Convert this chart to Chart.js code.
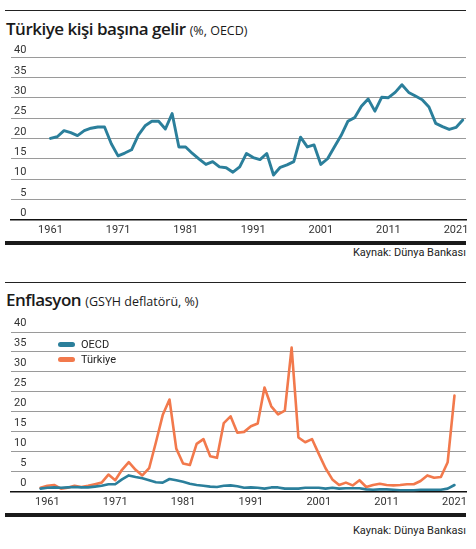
<!DOCTYPE html>
<html lang="tr">
<head>
<meta charset="utf-8">
<title>Türkiye kişi başına gelir ve enflasyon</title>
<script src="https://cdn.jsdelivr.net/npm/chart.js@4.4.1/dist/chart.umd.min.js"></script>
<style>
  html, body { margin: 0; padding: 0; background: #fff; }
  #page { position: relative; width: 476px; height: 549px; overflow: hidden; font-family: 'Open Sans', sans-serif; color: #1a1a1a; }
  .rule { position: absolute; left: 5px; width: 461px; height: 1px; background: #222; }
  .bar { position: absolute; left: 5px; width: 461px; height: 4px; background: #1a1a1a; }
  .title { position: absolute; left: 6px; white-space: nowrap; line-height: 20px; }
  .title b { font-weight: 600; font-size: 17px; letter-spacing: -0.5px; }
  .title span { font-size: 12.5px; }
  .source { position: absolute; right: 10px; font-family: 'Liberation Sans Narrow', 'Roboto', sans-serif; font-size: 11px; line-height: 12px; color: #222; }
  .chart { position: absolute; left: 0; width: 476px; }
  .legend { position: absolute; left: 58px; font-family: 'Liberation Sans Narrow', 'Roboto', sans-serif; font-size: 11px; color: #222; }
  .legend div { height: 15px; line-height: 15px; white-space: nowrap; }
  .legend i { display: inline-block; width: 17px; height: 5px; border-radius: 3px; margin-right: 6px; vertical-align: middle; position: relative; top: -1px; }
</style>
</head>
<body>
<div id="page">
  <div class="rule" style="top:10px"></div>
  <div class="title" style="top:19px"><b>Türkiye kişi başına gelir</b> <span>(%, OECD)</span></div>
  <div class="chart" style="top:40px;height:201px"><canvas id="incomeChart"></canvas></div>
  <div class="bar" style="top:241px"></div>
  <div class="source" style="top:247px">Kaynak: Dünya Bankası</div>

  <div class="rule" style="top:282px"></div>
  <div class="title" style="top:290px"><b>Enflasyon</b> <span>(GSYH deflatörü, %)</span></div>
  <div class="chart" style="top:315px;height:198px"><canvas id="inflationChart"></canvas></div>
  <div class="legend" style="top:337px">
    <div><i style="background:#2b7f9b"></i>OECD</div>
    <div><i style="background:#f2794c"></i>Türkiye</div>
  </div>
  <div class="bar" style="top:513px"></div>
  <div class="source" style="top:525px">Kaynak: Dünya Bankası</div>
</div>

<script>
// Kişi başına gelir, OECD ortalamasına oranı (%)
const incomeYears = [
  1961, 1962, 1963, 1964, 1965, 1966, 1967, 1968, 1969, 1970,
  1971, 1972, 1973, 1974, 1975, 1976, 1977, 1978, 1979, 1980,
  1981, 1982, 1983, 1984, 1985, 1986, 1987, 1988, 1989, 1990,
  1991, 1992, 1993, 1994, 1995, 1996, 1997, 1998, 1999, 2000,
  2001, 2002, 2003, 2004, 2005, 2006, 2007, 2008, 2009, 2010,
  2011, 2012, 2013, 2014, 2015, 2016, 2017, 2018, 2019, 2020,
  2021, 2022
];
const incomeValues = [
  20.0, 20.4, 21.9, 21.4, 20.7, 21.9, 22.5, 22.8, 22.8, 18.7,
  15.7, 16.4, 17.2, 20.8, 23.1, 24.2, 24.2, 22.3, 26.1, 17.9,
  17.9, 16.3, 14.9, 13.6, 14.3, 13.0, 12.8, 11.7, 13.0, 16.3,
  15.3, 14.8, 16.3, 11.0, 12.9, 13.5, 14.3, 20.3, 17.9, 18.4,
  13.6, 15.0, 17.9, 20.7, 24.2, 25.1, 27.9, 29.7, 26.7, 30.1,
  30.0, 31.3, 33.2, 31.3, 30.4, 29.5, 27.7, 23.7, 22.9, 22.2,
  22.7, 24.5
];

// Enflasyon (GSYH deflatörü)
const inflationYears = [
  1960, 1961, 1962, 1963, 1964, 1965, 1966, 1967, 1968, 1969,
  1970, 1971, 1972, 1973, 1974, 1975, 1976, 1977, 1978, 1979,
  1980, 1981, 1982, 1983, 1984, 1985, 1986, 1987, 1988, 1989,
  1990, 1991, 1992, 1993, 1994, 1995, 1996, 1997, 1998, 1999,
  2000, 2001, 2002, 2003, 2004, 2005, 2006, 2007, 2008, 2009,
  2010, 2011, 2012, 2013, 2014, 2015, 2016, 2017, 2018, 2019,
  2020, 2021
];
const oecdInflation = [
  0.8, 1.0, 1.1, 1.0, 1.1, 1.2, 1.1, 1.1, 1.3, 1.5,
  1.9, 1.9, 3.1, 4.1, 3.7, 3.4, 2.9, 2.4, 2.3, 3.2,
  2.9, 2.5, 2.0, 1.7, 1.5, 1.3, 1.2, 1.5, 1.6, 1.4,
  1.0, 1.1, 1.0, 0.8, 1.1, 1.1, 0.8, 0.8, 0.8, 1.0,
  1.0, 1.0, 0.8, 1.0, 0.8, 0.9, 0.9, 0.9, 0.6, 0.5,
  0.6, 0.6, 0.5, 0.4, 0.4, 0.4, 0.5, 0.5, 0.5, 0.5,
  0.8, 1.7
];
const turkeyInflation = [
  1.0, 1.5, 1.7, 0.8, 1.0, 1.5, 1.2, 1.5, 1.9, 2.3,
  4.3, 2.9, 5.5, 7.4, 5.5, 4.1, 5.9, 12.4, 19.2, 23.1,
  10.8, 7.1, 6.7, 12.0, 13.2, 8.9, 8.5, 17.2, 18.9, 14.8,
  15.0, 16.4, 17.1, 26.1, 21.4, 19.4, 20.3, 36.1, 13.6, 12.4,
  13.2, 9.5, 5.9, 3.1, 1.7, 2.3, 1.6, 2.9, 1.2, 1.7,
  2.0, 1.7, 1.6, 1.7, 1.9, 1.9, 2.7, 4.1, 3.5, 3.7,
  7.4, 24.1
];

const xTickYears = [1961, 1971, 1981, 1991, 2001, 2011, 2021];
const yTickValues = [0, 5, 10, 15, 20, 25, 30, 35, 40];

const narrowFont = "'Liberation Sans Narrow', 'Roboto', sans-serif";

function toPoints(years, values) {
    return years.map((year, i) => ({ x: year, y: values[i] }));
}

function makeChart(canvasId, datasets, xMin, xMax, padTop, labelLift) {
    return new Chart(document.getElementById(canvasId), {
        type: 'line',
        data: { datasets: datasets },
        options: {
            responsive: true,
            maintainAspectRatio: false,
            animation: false,
            layout: { padding: { left: 5, right: 10, top: padTop, bottom: 0 } },
            plugins: { legend: { display: false }, tooltip: { enabled: false } },
            elements: {
                point: { radius: 0 },
                line: { tension: 0, borderJoinStyle: 'round', borderCapStyle: 'round' }
            },
            scales: {
                x: {
                    type: 'linear',
                    min: xMin,
                    max: xMax,
                    afterBuildTicks: (scale) => { scale.ticks = xTickYears.map(v => ({ value: v })); },
                    grid: { display: false, drawTicks: false },
                    border: { display: true, color: '#111', width: 1.5 },
                    ticks: {
                        padding: 4,
                        color: '#333',
                        autoSkip: false,
                        maxRotation: 0,
                        font: { family: narrowFont, size: 11 },
                        callback: (value) => String(value)
                    }
                },
                y: {
                    min: 0,
                    max: 40,
                    afterBuildTicks: (scale) => { scale.ticks = yTickValues.map(v => ({ value: v })); },
                    grid: {
                        drawTicks: false,
                        lineWidth: 1,
                        color: (ctx) => (ctx.tick && ctx.tick.value === 0) ? 'rgba(0,0,0,0)' : '#9a9a9a'
                    },
                    border: { display: false },
                    ticks: {
                        mirror: true,
                        crossAlign: 'far',
                        padding: 3,
                        labelOffset: -labelLift,
                        color: '#333',
                        font: { family: narrowFont, size: 11 }
                    }
                }
            }
        }
    });
}

makeChart('incomeChart', [{
    label: 'Türkiye',
    data: toPoints(incomeYears, incomeValues),
    borderColor: '#2b7f9b',
    borderWidth: 2.9
}], 1955.16, 2022.48, 17, 6.5);

makeChart('inflationChart', [{
    label: 'OECD',
    data: toPoints(inflationYears, oecdInflation),
    borderColor: '#2b7f9b',
    borderWidth: 2.6
}, {
    label: 'Türkiye',
    data: toPoints(inflationYears, turkeyInflation),
    borderColor: '#f2794c',
    borderWidth: 2.6
}], 1955.64, 2022.70, 17, 9);
</script>
</body>
</html>
